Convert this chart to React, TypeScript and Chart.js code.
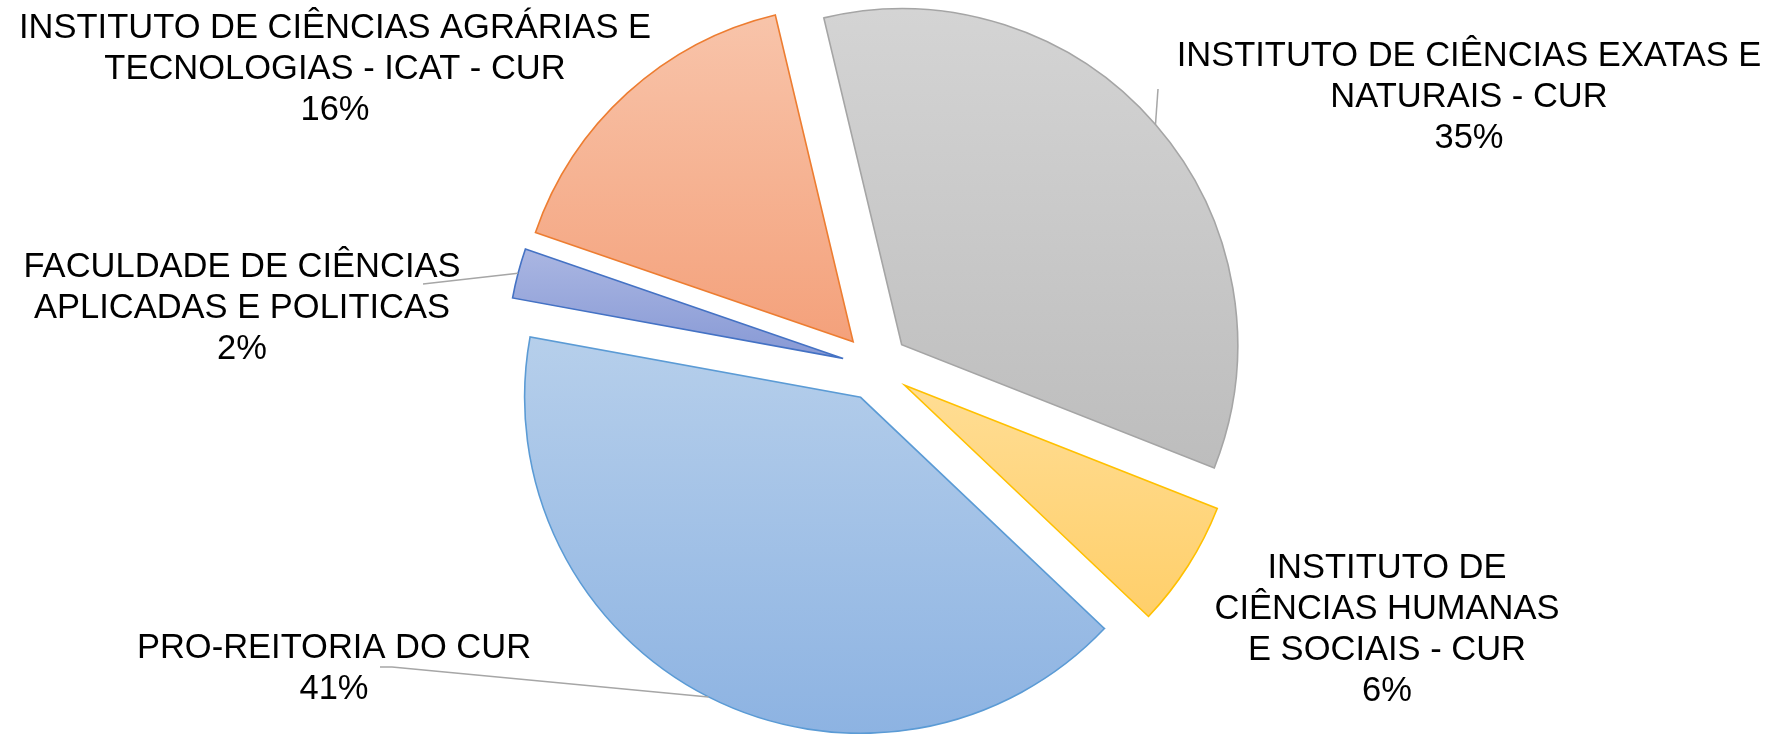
import React, { useEffect, useRef } from "react";
import { Chart, registerables } from "chart.js";

Chart.register(...registerables);

// ---- data ----
const categories = [
  "INSTITUTO DE CIÊNCIAS EXATAS E NATURAIS - CUR",
  "INSTITUTO DE CIÊNCIAS HUMANAS E SOCIAIS - CUR",
  "PRO-REITORIA DO CUR",
  "FACULDADE DE CIÊNCIAS APLICADAS E POLITICAS",
  "INSTITUTO DE CIÊNCIAS AGRÁRIAS E TECNOLOGIAS - ICAT - CUR",
];
const values = [34.7, 6.1, 40.8, 2.4, 16.0];
const labelLines = [
  ["INSTITUTO DE CIÊNCIAS EXATAS E", "NATURAIS - CUR"],
  ["INSTITUTO DE", "CIÊNCIAS HUMANAS", "E SOCIAIS - CUR"],
  ["PRO-REITORIA DO CUR"],
  ["FACULDADE DE CIÊNCIAS", "APLICADAS E POLITICAS"],
  ["INSTITUTO DE CIÊNCIAS AGRÁRIAS E", "TECNOLOGIAS - ICAT - CUR"],
];

// ---- styles / layout ----
const borderColors = ["#a5a5a5", "#ffc000", "#5b9bd5", "#4472c4", "#ed7d31"];
const gradTop = ["#d4d4d4", "#ffdd94", "#b6cfeb", "#aab6e2", "#f8c4aa"];
const gradBottom = ["#bdbdbd", "#ffcf6a", "#8db3e2", "#8799d5", "#f4a17b"];
const labelPos = [
  [1469, 56],
  [1387, 568],
  [334, 648],
  [242, 267],
  [335, 28],
];
const leaderStart: (number[][] | null)[] = [
  [[1158, 89]],
  null,
  [[380, 667], [392, 667]],
  [[423, 284]],
  null,
];
const ROTATION_DEG = -13.4;
const EXPLODE = 34;
const RADIUS = 336;
const LINE_H = 41;
const FONT = "34.5px 'Liberation Sans', Arial, sans-serif";

function sliceAngles(i: number) {
  const total = values.reduce((a, b) => a + b, 0);
  let cum = 0;
  for (let k = 0; k < i; k++) cum += values[k];
  const base = -Math.PI / 2 + (ROTATION_DEG * Math.PI) / 180;
  const start = base + (cum / total) * Math.PI * 2;
  const end = base + ((cum + values[i]) / total) * Math.PI * 2;
  return { start, end };
}

function angleIn(a: number, s: number, e: number) {
  const T = Math.PI * 2;
  let x = a;
  while (x < s) x += T;
  while (x > s + T) x -= T;
  return x <= e;
}

function gradientFor(c: any) {
  const chart = c.chart;
  const i = c.dataIndex;
  const area = chart.chartArea;
  if (!area || i === undefined) return gradTop[i || 0];
  const cx = (area.left + area.right) / 2;
  const cy = (area.top + area.bottom) / 2;
  const { start, end } = sliceAngles(i);
  const mid = (start + end) / 2;
  const y0 = cy + Math.sin(mid) * EXPLODE;
  const ys = [y0, y0 + Math.sin(start) * RADIUS, y0 + Math.sin(end) * RADIUS];
  if (angleIn(Math.PI / 2, start, end)) ys.push(y0 + RADIUS);
  if (angleIn(-Math.PI / 2, start, end)) ys.push(y0 - RADIUS);
  const top = Math.min(...ys);
  const bot = Math.max(...ys);
  const g = chart.ctx.createLinearGradient(0, top, 0, bot);
  g.addColorStop(0, gradTop[i]);
  g.addColorStop(1, gradBottom[i]);
  return g;
}

const explodePlugin = {
  id: "explodeSlices",
  beforeDatasetsDraw(chart: any) {
    const meta = chart.getDatasetMeta(0);
    const a = chart.chartArea;
    const cx = (a.left + a.right) / 2;
    const cy = (a.top + a.bottom) / 2;
    meta.data.forEach((arc: any) => {
      const mid = (arc.startAngle + arc.endAngle) / 2;
      arc.x = cx + Math.cos(mid) * EXPLODE;
      arc.y = cy + Math.sin(mid) * EXPLODE;
    });
  },
};

const labelPlugin = {
  id: "sliceLabels",
  afterDatasetsDraw(chart: any) {
    const ctx = chart.ctx;
    const meta = chart.getDatasetMeta(0);
    const total = values.reduce((a, b) => a + b, 0);
    ctx.save();
    // leader lines
    ctx.strokeStyle = "#a6a6a6";
    ctx.lineWidth = 1.5;
    meta.data.forEach((arc: any, i: number) => {
      const pts = leaderStart[i];
      if (!pts) return;
      const mid = (arc.startAngle + arc.endAngle) / 2;
      const ex = arc.x + Math.cos(mid) * arc.outerRadius;
      const ey = arc.y + Math.sin(mid) * arc.outerRadius;
      ctx.beginPath();
      ctx.moveTo(pts[0][0], pts[0][1]);
      for (let k = 1; k < pts.length; k++) ctx.lineTo(pts[k][0], pts[k][1]);
      ctx.lineTo(ex, ey);
      ctx.stroke();
    });
    // texts
    ctx.fillStyle = "#000000";
    ctx.font = FONT;
    ctx.textAlign = "center";
    ctx.textBaseline = "middle";
    values.forEach((v, i) => {
      const lines = [...labelLines[i], `${Math.round((v / total) * 100)}%`];
      const [x, y] = labelPos[i];
      lines.forEach((ln, k) => ctx.fillText(ln, x, y + k * LINE_H));
    });
    ctx.restore();
  },
};

export default function App() {
  const ref = useRef<HTMLCanvasElement | null>(null);
  useEffect(() => {
    document.body.style.margin = "0";
    const canvas = ref.current;
    if (!canvas) return;
    const chart = new Chart(canvas, {
      type: "pie",
      data: {
        labels: categories,
        datasets: [
          {
            data: values,
            backgroundColor: (c: any) => gradientFor(c),
            borderColor: borderColors,
            borderWidth: 1.6,
            borderJoinStyle: "miter",
          } as any,
        ],
      },
      options: {
        animation: false,
        responsive: true,
        maintainAspectRatio: false,
        rotation: ROTATION_DEG,
        radius: RADIUS,
        layout: { padding: { left: 4, right: 44, top: 4, bottom: 4 } },
        plugins: {
          legend: { display: false },
          tooltip: { enabled: false },
        },
      } as any,
      plugins: [explodePlugin, labelPlugin],
    });
    return () => chart.destroy();
  }, []);
  return (
    <div style={{ width: "1792px", height: "734px", position: "relative", background: "#ffffff" }}>
      <canvas ref={ref} />
    </div>
  );
}
